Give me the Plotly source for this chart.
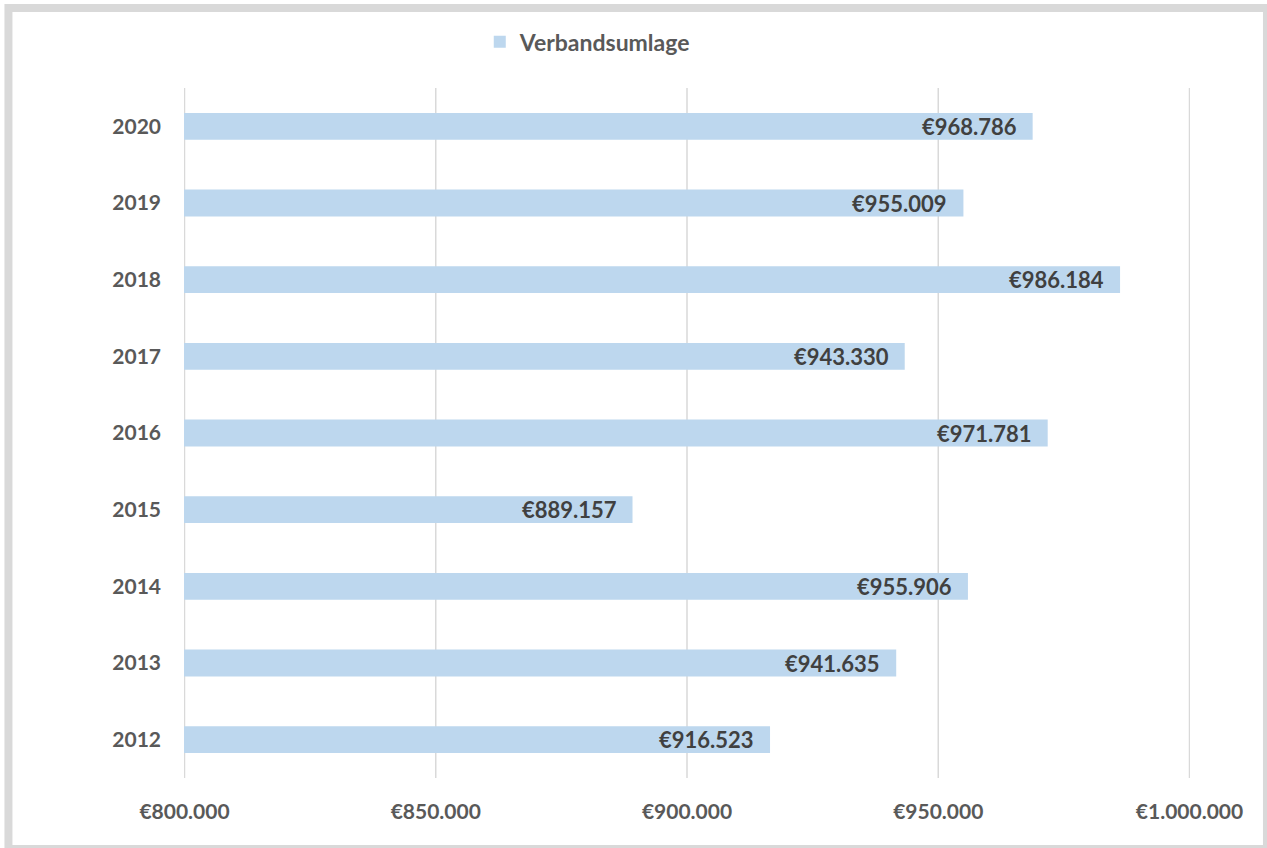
import plotly.graph_objects as go

years = [2012, 2013, 2014, 2015, 2016, 2017, 2018, 2019, 2020]
values = [916523, 941635, 955906, 889157, 971781, 943330, 986184, 955009, 968786]
series_name = "Verbandsumlage"
tick_vals = [800000, 850000, 900000, 950000, 1000000]

def fmt(v):
    return "€" + f"{v:,}".replace(",", ".")

FONT = "Lato"
fig = go.Figure()
fig.add_trace(go.Bar(
    y=years, x=values, orientation="h", name=series_name,
    marker=dict(color="#bdd7ee", line=dict(width=0)),
    width=0.35, hoverinfo="x+y",
))

annotations = [
    dict(x=v, y=y, xref="x", yref="y", text=fmt(v), showarrow=False,
         xanchor="right", yanchor="middle", xshift=-14,
         font=dict(family=FONT, size=22, color="#404040", weight="bold"))
    for y, v in zip(years, values)
]

shapes = [dict(type="rect", xref="paper", yref="paper",
               x0=-0.1745, x1=1.0765, y0=-0.1029, y1=1.1159,
               line=dict(color="#d9d9d9", width=8), layer="below")]
shapes += [dict(type="line", xref="x", yref="paper", x0=t, x1=t, y0=0, y1=1,
                line=dict(color="#d9d9d9", width=1.5), layer="below")
           for t in tick_vals]

fig.update_layout(
    width=1267, height=848,
    margin=dict(l=184, r=77, t=88, b=70),
    paper_bgcolor="white", plot_bgcolor="white",
    font=dict(family=FONT, size=21, color="#595959", weight="bold"),
    separators=",.",
    showlegend=True,
    legend=dict(orientation="h", x=0.294, y=1.067, xanchor="left", yanchor="middle",
                font=dict(family=FONT, size=23, color="#595959", weight="bold"),
                itemwidth=30),
    annotations=annotations,
    shapes=shapes,
    xaxis=dict(range=[799900, 1000100], tickvals=tick_vals,
               ticktext=[fmt(v) for v in tick_vals],
               showgrid=False,
               zeroline=False, showline=False, ticks="",
               ticklabelstandoff=19,
               tickfont=dict(family=FONT, size=21, color="#595959", weight="bold")),
    yaxis=dict(type="linear", range=[min(years) - 0.5, max(years) + 0.5],
               tickvals=years, ticktext=[str(y) for y in years],
               showgrid=False, zeroline=False, showline=False, ticks="",
               ticklabelstandoff=22,
               tickfont=dict(family=FONT, size=21, color="#595959", weight="bold")),
)

fig.write_html("out.html", config={"displayModeBar": False},
               post_script="document.body.style.margin='0';document.body.style.overflow='hidden';")
